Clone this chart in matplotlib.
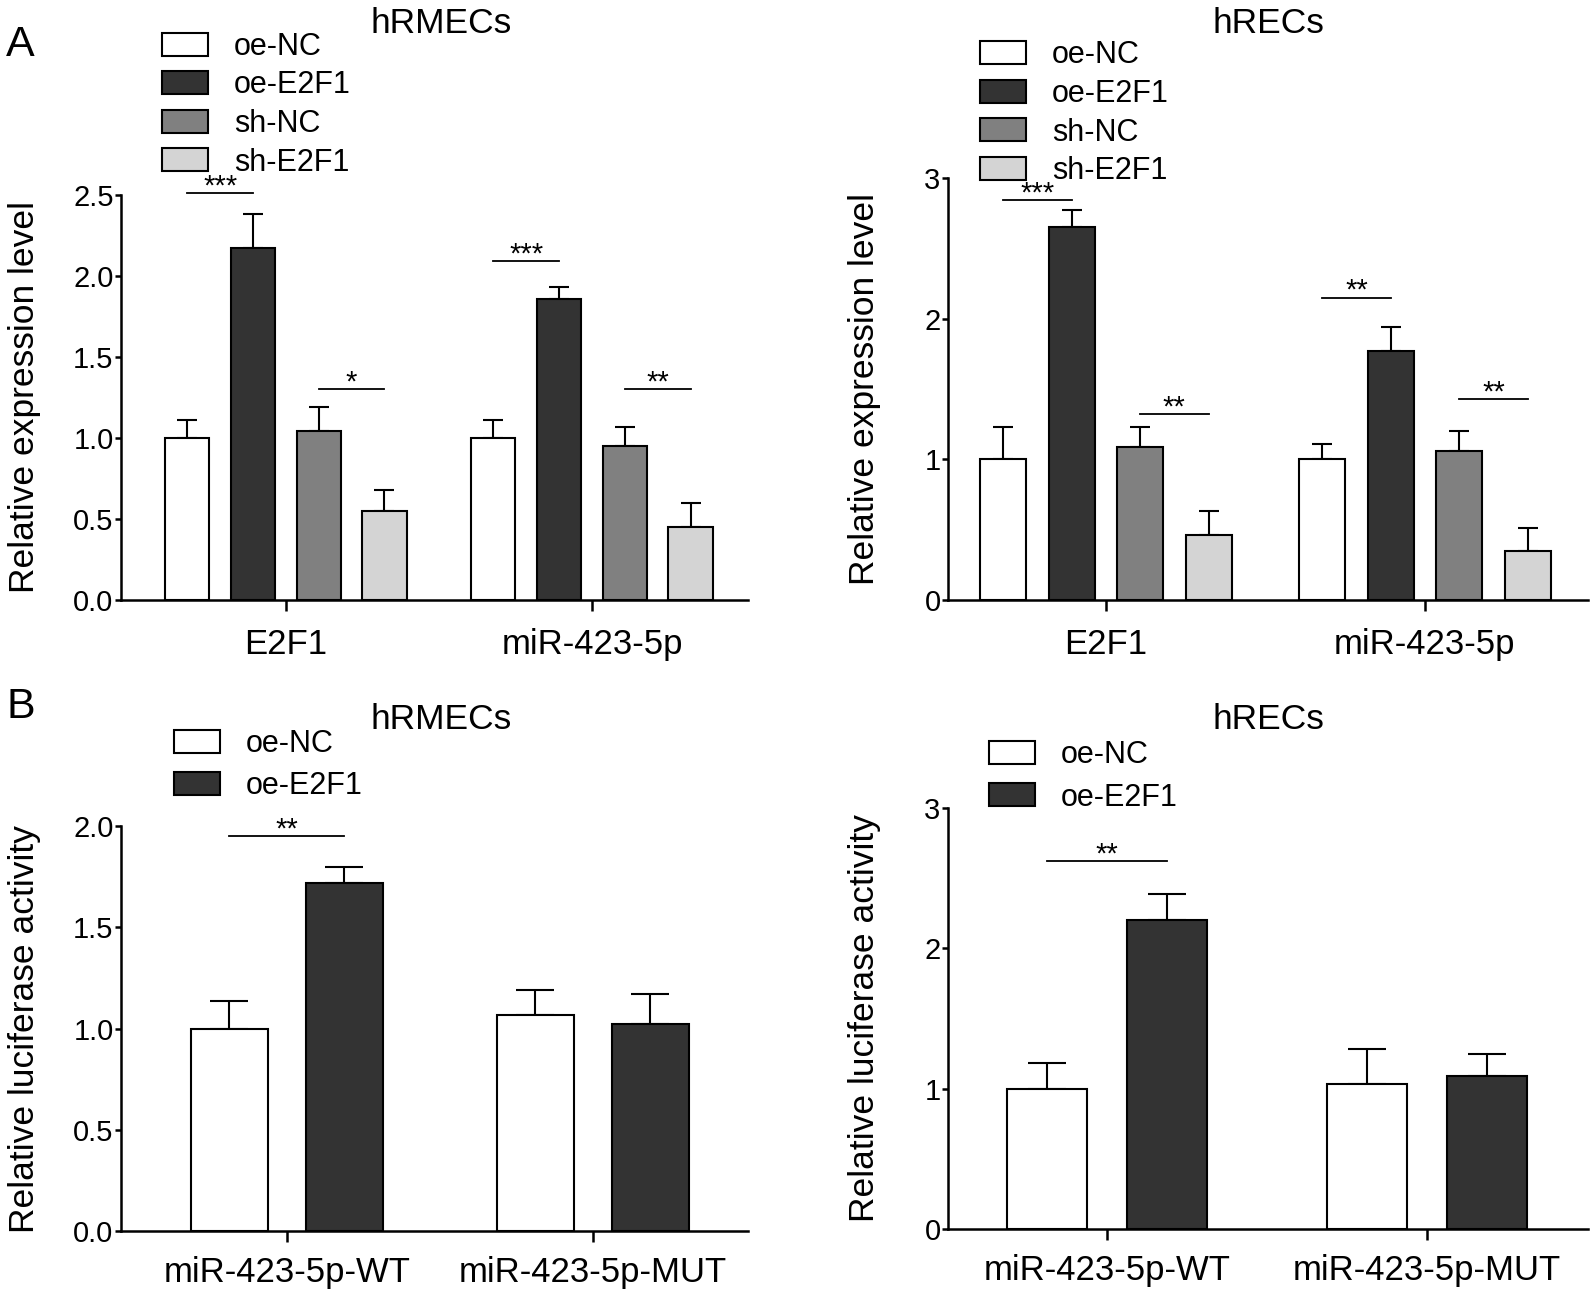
import matplotlib
matplotlib.use('Agg')
from matplotlib import pyplot as plt
from matplotlib.patches import Patch

plt.rcParams['font.family'] = ['Liberation Sans', 'DejaVu Sans']

#Panel A: relative expression, two targets x four transfection groups
expr_targets = ['E2F1', 'miR-423-5p']
expr_groups = ['oe-NC', 'oe-E2F1', 'sh-NC', 'sh-E2F1']
hrmec_expr_mean = [[1.00, 2.17, 1.04, 0.55], [1.00, 1.86, 0.95, 0.45]]
hrmec_expr_sd = [[0.11, 0.21, 0.15, 0.13], [0.11, 0.07, 0.12, 0.15]]
hrec_expr_mean = [[1.00, 2.65, 1.09, 0.46], [1.00, 1.77, 1.06, 0.35]]
hrec_expr_sd = [[0.23, 0.12, 0.14, 0.17], [0.11, 0.17, 0.14, 0.16]]

#Panel B: luciferase reporter activity
luc_targets = ['miR-423-5p-WT', 'miR-423-5p-MUT']
luc_groups = ['oe-NC', 'oe-E2F1']
hrmec_luc_mean = [[1.00, 1.72], [1.066, 1.02]]
hrmec_luc_sd = [[0.135, 0.08], [0.124, 0.15]]
hrec_luc_mean = [[1.00, 2.20], [1.03, 1.09]]
hrec_luc_sd = [[0.18, 0.19], [0.25, 0.16]]

#Significance marks: (target index, bar a, bar b, line height, label)
hrmec_expr_sig = [(0, 0, 1, 2.51, '***'), (0, 2, 3, 1.30, '*'),
                  (1, 0, 1, 2.09, '***'), (1, 2, 3, 1.30, '**')]
hrec_expr_sig = [(0, 0, 1, 2.84, '***'), (0, 2, 3, 1.32, '**'),
                 (1, 0, 1, 2.15, '**'), (1, 2, 3, 1.43, '**')]
hrmec_luc_sig = [(0, 0, 1, 1.95, '**')]
hrec_luc_sig = [(0, 0, 1, 2.62, '**')]

BAR_COLORS = ['white', '#333333', '#808080', '#d4d4d4']
LW = 1.5


def draw_panel(ax, targets, groups, means, sds, sig, offsets, width, capsize,
               xlim, ylim, yticks, yfmt, ylabel, ylabel_x, xpad):
    for j, grp in enumerate(groups):
        xs = [i + offsets[j] for i in range(len(targets))]
        vals = [m[j] for m in means]
        errs = [s[j] for s in sds]
        ax.errorbar(xs, vals, yerr=[[0] * len(errs), errs], fmt='none',
                    ecolor='black', elinewidth=LW, capsize=capsize,
                    capthick=LW, zorder=1)
        ax.bar(xs, vals, width=width, color=BAR_COLORS[j], edgecolor='black',
               linewidth=LW, zorder=2)

    for ti, a, b, h, label in sig:
        x1 = ti + offsets[a]
        x2 = ti + offsets[b]
        ax.plot([x1, x2], [h, h], color='black', lw=1.3, clip_on=False)
        ax.annotate(label, xy=((x1 + x2) / 2, h), xytext=(0, -1),
                    textcoords='offset points', ha='center', va='baseline',
                    fontsize=21, annotation_clip=False)

    ax.set_xlim(*xlim)
    ax.set_ylim(*ylim)
    ax.set_xticks(range(len(targets)))
    ax.set_xticklabels(targets, fontsize=25)
    ax.set_yticks(yticks)
    ax.set_yticklabels([yfmt.format(v) for v in yticks], fontsize=21)
    ax.tick_params(axis='x', length=8, width=1.8, pad=xpad)
    ax.tick_params(axis='y', length=4.3, width=1.8, pad=1)
    for side in ['top', 'right']:
        ax.spines[side].set_visible(False)
    for side in ['left', 'bottom']:
        ax.spines[side].set_linewidth(1.8)
    ax.set_ylabel(ylabel, fontsize=25.5)
    ax.yaxis.set_label_coords(ylabel_x, 0.5)


def add_legend(fig, groups, x, y, spacing):
    handles = [Patch(facecolor=BAR_COLORS[j], edgecolor='black', linewidth=LW)
               for j in range(len(groups))]
    fig.legend(handles, groups, loc='upper left', bbox_to_anchor=(x, y),
               bbox_transform=fig.transFigure, frameon=False, fontsize=22,
               handlelength=1.5, handleheight=0.78, handletextpad=0.85,
               labelspacing=spacing, borderpad=0, borderaxespad=0)


figure = plt.figure(figsize=(15.94, 12.98), dpi=100)

ax_a1 = figure.add_axes([0.0759, 0.5378, 0.3934, 0.3120])
ax_a2 = figure.add_axes([0.5947, 0.5378, 0.4015, 0.3251])
ax_b1 = figure.add_axes([0.0759, 0.0516, 0.3934, 0.3120])
ax_b2 = figure.add_axes([0.5947, 0.0532, 0.4015, 0.3243])

expr_offsets = [-0.322, -0.107, 0.107, 0.322]
luc_offsets = [-0.188, 0.188]

draw_panel(ax_a1, expr_targets, expr_groups, hrmec_expr_mean, hrmec_expr_sd,
           hrmec_expr_sig, expr_offsets, 0.144, 7.3, (-0.539, 1.51), (0, 2.5),
           [0, 0.5, 1.0, 1.5, 2.0, 2.5], '{:.1f}', 'Relative expression level', -0.128, 12)
draw_panel(ax_a2, expr_targets, expr_groups, hrec_expr_mean, hrec_expr_sd,
           hrec_expr_sig, expr_offsets, 0.144, 7.3, (-0.495, 1.511), (0, 3),
           [0, 1, 2, 3], '{:d}', 'Relative expression level', -0.105, 12)
draw_panel(ax_b1, luc_targets, luc_groups, hrmec_luc_mean, hrmec_luc_sd,
           hrmec_luc_sig, luc_offsets, 0.252, 14, (-0.542, 1.507), (0, 2.0),
           [0, 0.5, 1.0, 1.5, 2.0], '{:.1f}', 'Relative luciferase activity', -0.128, 10)
draw_panel(ax_b2, luc_targets, luc_groups, hrec_luc_mean, hrec_luc_sd,
           hrec_luc_sig, luc_offsets, 0.25, 14, (-0.497, 1.503), (0, 3),
           [0, 1, 2, 3], '{:d}', 'Relative luciferase activity', -0.105, 10)

#Legends
add_legend(figure, expr_groups, 0.1016, 0.9754, 0.28)
add_legend(figure, expr_groups, 0.6148, 0.9688, 0.28)
add_legend(figure, luc_groups, 0.1092, 0.4380, 0.38)
add_legend(figure, luc_groups, 0.6204, 0.4299, 0.41)

#Cell line titles
figure.text(0.2767, 0.9746, 'hRMECs', ha='center', va='baseline', fontsize=25.5)
figure.text(0.7955, 0.9746, 'hRECs', ha='center', va='baseline', fontsize=25.5)
figure.text(0.2767, 0.4384, 'hRMECs', ha='center', va='baseline', fontsize=25.5)
figure.text(0.7955, 0.4384, 'hRECs', ha='center', va='baseline', fontsize=25.5)

#Panel letters
figure.text(0.004, 0.9569, 'A', ha='left', va='baseline', fontsize=31)
figure.text(0.004, 0.4468, 'B', ha='left', va='baseline', fontsize=31)

plt.savefig('out.png', dpi=100)
